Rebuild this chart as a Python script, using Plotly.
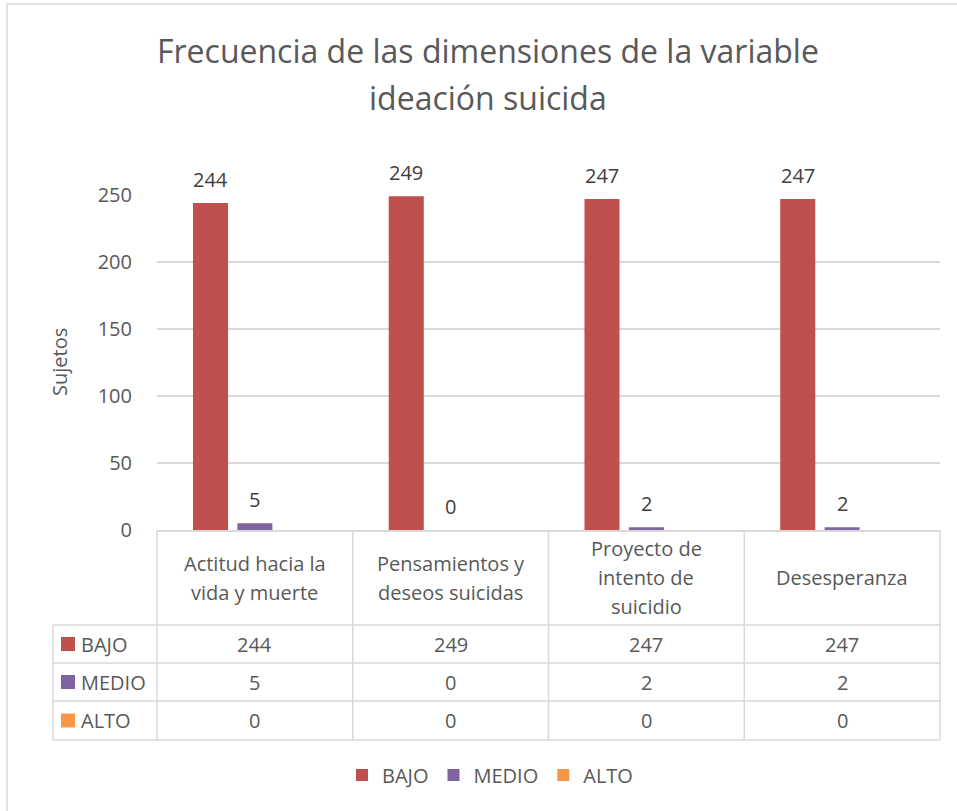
import plotly.graph_objects as go

# ---------------- data ----------------
categories = ["Actitud hacia la<br>vida y muerte",
              "Pensamientos y<br>deseos suicidas",
              "Proyecto de<br>intento de<br>suicidio",
              "Desesperanza"]
series_names = ["BAJO", "MEDIO", "ALTO"]
bajo = [244, 249, 247, 247]
medio = [5, 0, 2, 2]
alto = [0, 0, 0, 0]
y_ticks = [0, 50, 100, 150, 200, 250]
title_lines = ["Frecuencia de las dimensiones de la variable", "ideación suicida"]
y_title = "Sujetos"

# ---------------- style ----------------
colors = ["#C0504D", "#8064A2", "#F79646"]
txt = "#595959"
grid = "#D9D9D9"
FONT = "Open Sans"
FS = 20
W, H = 957, 811
L, R, T, B = 157, 17, 195, 281
BARGAP, BARGROUPGAP = 0.32, 0.21


def px_x(px):
    return (px - L) / (W - L - R)


def px_y(py):
    return (H - B - py) / (H - T - B)


series_vals = [bajo, medio, alto]
labelled = [True, True, False]
x_idx = list(range(len(categories)))
n = len(categories)
ns = len(series_names)

fig = go.Figure()
for name, vals, col in zip(series_names, series_vals, colors):
    fig.add_trace(go.Bar(name=name, x=x_idx, y=vals,
                         marker=dict(color=col, line=dict(width=0)), cliponaxis=False))

shapes = []
annotations = []
line_style = dict(color=grid, width=1.5)

# data labels above bars (BAJO and MEDIO only), positioned from the bar layout
slot = (1 - BARGAP) / ns
for k, (vals, lab) in enumerate(zip(series_vals, labelled)):
    if not lab:
        continue
    for i, v in enumerate(vals):
        annotations.append(dict(x=i + (k - (ns - 1) / 2) * slot, y=v, xref="x", yref="y",
                                text=str(v), showarrow=False, xanchor="center",
                                yanchor="middle", yshift=24,
                                font=dict(family=FONT, size=FS, color="#404040")))

# table geometry (pixel rows)
header_top, header_bot = 530, 625
row_edges = [625, 663, 701, 740]
left_col = 53

for i in range(n + 1):
    xp = i / n
    shapes.append(dict(type="line", xref="paper", yref="paper", x0=xp, x1=xp,
                       y0=px_y(header_top), y1=px_y(row_edges[-1]), line=line_style))
shapes.append(dict(type="line", xref="paper", yref="paper", x0=px_x(left_col), x1=px_x(left_col),
                   y0=px_y(row_edges[0]), y1=px_y(row_edges[-1]), line=line_style))
for ry in row_edges:
    shapes.append(dict(type="line", xref="paper", yref="paper", x0=px_x(left_col), x1=1,
                       y0=px_y(ry), y1=px_y(ry), line=line_style))

# header category labels (one annotation per line for Excel-like spacing)
hdr_center = px_y((header_top + header_bot) / 2)
for i, cat in enumerate(categories):
    lines = cat.split("<br>")
    m = len(lines)
    for j, ln in enumerate(lines):
        annotations.append(dict(x=i, y=hdr_center, xref="x", yref="paper", text=ln,
                                showarrow=False, xanchor="center", yanchor="middle",
                                yshift=((m - 1) / 2 - j) * 29,
                                font=dict(family=FONT, size=FS, color=txt)))

# rows: legend key + values
for r, (name, vals, col) in enumerate(zip(series_names, series_vals, colors)):
    yc = (row_edges[r] + row_edges[r + 1]) / 2
    shapes.append(dict(type="rect", xref="paper", yref="paper",
                       x0=px_x(61), x1=px_x(75), y0=px_y(yc + 7), y1=px_y(yc - 7),
                       fillcolor=col, line=dict(width=0)))
    annotations.append(dict(x=px_x(79), y=px_y(yc), xref="paper", yref="paper", text=name,
                            xanchor="left", yanchor="middle", showarrow=False,
                            font=dict(family=FONT, size=FS, color=txt)))
    for i, v in enumerate(vals):
        annotations.append(dict(x=i, y=px_y(yc), xref="x", yref="paper", text=str(v),
                                showarrow=False, xanchor="center", yanchor="middle",
                                font=dict(family=FONT, size=FS, color=txt)))

# title lines
for ln, py in zip(title_lines, [50, 97]):
    annotations.append(dict(x=px_x(488), y=px_y(py), xref="paper", yref="paper", text=ln,
                            showarrow=False, xanchor="center", yanchor="middle",
                            font=dict(family=FONT, size=32, color=txt)))

# y-axis title
annotations.append(dict(x=px_x(59), y=px_y(362), xref="paper", yref="paper", text=y_title,
                        textangle=-90, showarrow=False, xanchor="center", yanchor="middle",
                        font=dict(family=FONT, size=FS, color=txt)))

# outer chart border (left/top visible)
shapes.append(dict(type="rect", xref="paper", yref="paper", x0=px_x(7), x1=px_x(970),
                   y0=px_y(830), y1=px_y(4), line=line_style, fillcolor="rgba(0,0,0,0)"))

fig.update_layout(
    width=W, height=H, margin=dict(l=L, r=R, t=T, b=B, autoexpand=False),
    paper_bgcolor="white", plot_bgcolor="white",
    barmode="group", bargap=BARGAP, bargroupgap=BARGROUPGAP,
    xaxis=dict(range=[-0.5, n - 0.5], showticklabels=False, showgrid=False, zeroline=False,
               showline=True, linecolor=grid, linewidth=1.5, ticks=""),
    yaxis=dict(range=[0, 250], tickvals=y_ticks, showgrid=True, gridcolor=grid, gridwidth=1.5,
               zeroline=False, showline=False, ticks="", ticklabelstandoff=24,
               tickfont=dict(family=FONT, size=FS, color=txt)),
    showlegend=True,
    legend=dict(orientation="h", x=px_x(490), xanchor="center", y=px_y(775), yanchor="middle",
                font=dict(family=FONT, size=FS, color=txt), itemwidth=30,
                traceorder="normal"),
    shapes=shapes, annotations=annotations,
)

fig.write_html("out.html", config={"displayModeBar": False},
               post_script="document.body.style.margin='0';document.body.style.padding='0';")
